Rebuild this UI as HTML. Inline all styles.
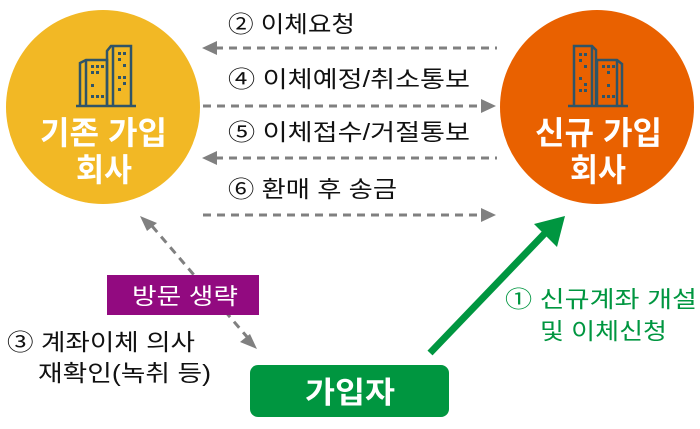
<!DOCTYPE html>
<html><head><meta charset="utf-8"><style>
html,body{margin:0;padding:0;background:#fff;}
svg{display:block;}
text{font-family:"Liberation Sans","Noto Sans CJK KR",sans-serif;}
</style></head><body>
<svg width="700" height="429" viewBox="0 0 700 429" xmlns="http://www.w3.org/2000/svg">
<circle cx="103" cy="107" r="97" fill="#f2b825"/>
<circle cx="597" cy="107" r="97" fill="#e96100"/>
<g fill="none" stroke="#2f5468" stroke-width="2.5">
<line x1="76" y1="106" x2="136" y2="106"/>
<path d="M80 106V63l6-3h21v46"/>
<path d="M86 60v46"/>
<path d="M107 106V51l4-5h20v60"/>
<path d="M113 46v60"/>
</g>
<g fill="#2f5468">
<rect x="91" y="65" width="3" height="3"/><rect x="96" y="65" width="3" height="3"/><rect x="101" y="65" width="3" height="3"/>
<rect x="91" y="71" width="3" height="3"/><rect x="96" y="71" width="3" height="3"/>
<rect x="91" y="84" width="3" height="3"/><rect x="91" y="95" width="3" height="3"/><rect x="96" y="95" width="3" height="3"/><rect x="101" y="95" width="3" height="3"/>
<rect x="118" y="52" width="3" height="3"/><rect x="123" y="52" width="3" height="3"/><rect x="118" y="58" width="3" height="3"/><rect x="123" y="64" width="3" height="3"/>
<rect x="118" y="76" width="3" height="3"/><rect x="123" y="76" width="3" height="3"/><rect x="123" y="82" width="3" height="3"/><rect x="118" y="88" width="3" height="3"/>
</g>
<g fill="none" stroke="#2f5468" stroke-width="2.5">
<line x1="568" y1="106" x2="628" y2="106"/>
<path d="M574 106V46h18l4 4v56"/>
<path d="M592 46v60"/>
<path d="M597 106V60h20l5 4v42"/>
<path d="M617 60v46"/>
</g>
<g fill="#2f5468">
<rect x="579" y="53" width="3" height="3"/><rect x="584" y="53" width="3" height="3"/><rect x="579" y="59" width="3" height="3"/><rect x="584" y="65" width="3" height="3"/>
<rect x="579" y="77" width="3" height="3"/><rect x="584" y="83" width="3" height="3"/><rect x="579" y="89" width="3" height="3"/><rect x="584" y="89" width="3" height="3"/>
<rect x="602" y="65" width="3" height="3"/><rect x="607" y="65" width="3" height="3"/><rect x="612" y="65" width="3" height="3"/><rect x="607" y="71" width="3" height="3"/>
<rect x="607" y="84" width="3" height="3"/><rect x="602" y="95" width="3" height="3"/><rect x="607" y="95" width="3" height="3"/><rect x="612" y="95" width="3" height="3"/>
</g>
<g fill="#fff" font-size="32" font-weight="bold">
<text x="40" y="144" textLength="127" lengthAdjust="spacingAndGlyphs">기존 가입</text>
<text x="76" y="181" textLength="56" lengthAdjust="spacingAndGlyphs">회사</text>
<text x="535" y="144" textLength="127" lengthAdjust="spacingAndGlyphs">신규 가입</text>
<text x="570" y="181" textLength="56" lengthAdjust="spacingAndGlyphs">회사</text>
</g>
<g stroke="#808080" stroke-width="3" stroke-dasharray="8,6" fill="none">
<line x1="215" y1="48" x2="497" y2="48"/>
<line x1="203" y1="106" x2="483" y2="106"/>
<line x1="215" y1="158" x2="497" y2="158"/>
<line x1="203" y1="215" x2="483" y2="215"/>
<line x1="152" y1="226" x2="248" y2="338"/>
</g>
<g fill="#808080">
<polygon points="202,48 217,41 217,55"/>
<polygon points="496,106 481,99 481,113"/>
<polygon points="202,158 217,151 217,165"/>
<polygon points="496,215 481,208 481,222"/>
<polygon points="140,216 157,223 147,231"/>
<polygon points="257,349 240,342 250,334"/>
</g>
<g fill="#111" font-size="23">
<text x="228" y="32" textLength="127" lengthAdjust="spacingAndGlyphs">② 이체요청</text>
<text x="228" y="87" textLength="242" lengthAdjust="spacingAndGlyphs">④ 이체예정/취소통보</text>
<text x="228" y="140" textLength="242" lengthAdjust="spacingAndGlyphs">⑤ 이체접수/거절통보</text>
<text x="228" y="197" textLength="169" lengthAdjust="spacingAndGlyphs">⑥ 환매 후 송금</text>
<text x="7" y="350" textLength="188" lengthAdjust="spacingAndGlyphs">③ 계좌이체 의사</text>
<text x="38" y="381" textLength="173" lengthAdjust="spacingAndGlyphs">재확인(녹취 등)</text>
</g>
<rect x="107" y="275" width="152" height="40" fill="#920a80"/>
<text x="132" y="304" fill="#fff" font-size="23" textLength="106" lengthAdjust="spacingAndGlyphs">방문 생략</text>
<line x1="430" y1="353" x2="548" y2="230" stroke="#009640" stroke-width="7"/>
<polygon points="565,216 557,247 534,224" fill="#009640"/>
<g fill="#009640" font-size="23">
<text x="505" y="307" textLength="192" lengthAdjust="spacingAndGlyphs">① 신규계좌 개설</text>
<text x="540" y="339" textLength="127" lengthAdjust="spacingAndGlyphs">및 이체신청</text>
</g>
<rect x="250" y="365" width="199" height="52" rx="8" fill="#009640"/>
<text x="305" y="403" fill="#fff" font-size="30" font-weight="bold" textLength="90" lengthAdjust="spacingAndGlyphs">가입자</text>
</svg>
</body></html>
